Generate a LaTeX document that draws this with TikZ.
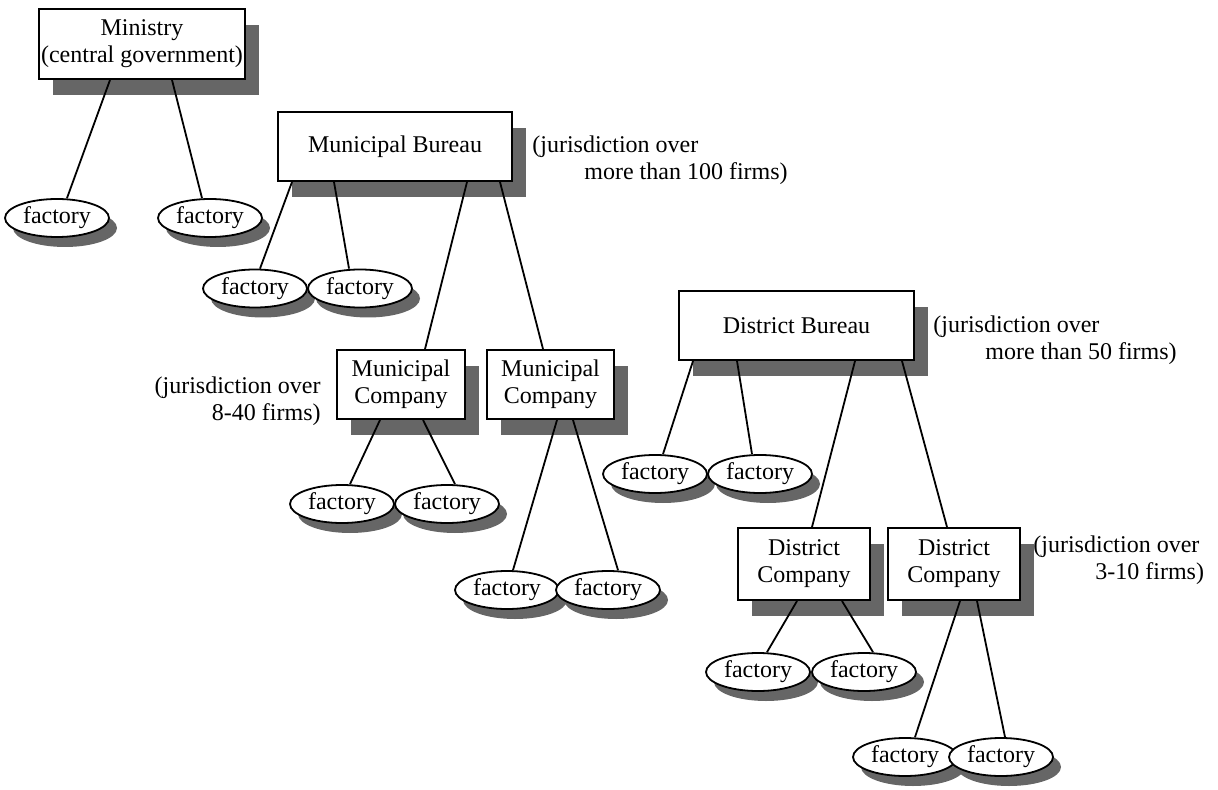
\documentclass[tikz,border=0pt]{standalone}
\usepackage{fontspec}
\setmainfont{Liberation Serif}
\usetikzlibrary{shapes.geometric,shadows}

\begin{document}
\begin{tikzpicture}[x=0.5pt, y=-0.5pt,
	every node/.style={font=\fontsize{12}{13.5}\selectfont},
	office/.style={draw, line width=1pt, fill=white, align=center, inner sep=1pt,
		drop shadow={shadow xshift=7pt, shadow yshift=-8pt, fill=black!60, opacity=1}},
	plant/.style={ellipse, draw, line width=0.9pt, fill=white, inner sep=0pt,
		minimum width=52pt, minimum height=19pt,
		drop shadow={shadow xshift=4pt, shadow yshift=-5pt, fill=black!60, opacity=1}},
	remark/.style={inner sep=0pt, align=left},
	link/.style={line width=0.9pt}]
	\useasboundingbox (0,0) rectangle (1218,790);

	\node[office, minimum width=103pt, minimum height=35pt] (min) at (142,44) {Ministry\\(central government)};
	\node[plant] (fa1) at (57,218) {factory};
	\node[plant] (fa2) at (210,218) {factory};

	\node[office, minimum width=117pt, minimum height=34.5pt] (mb) at (395,146.5) {Municipal Bureau};
	\node[remark, anchor=west] (mbnote) at (532,160) {(jurisdiction over\\\hspace*{26pt}more than 100 firms)};
	\node[plant] (fb1) at (255,288.5) {factory};
	\node[plant] (fb2) at (360,288.5) {factory};

	\node[office, minimum width=64pt, minimum height=34.5pt] (mc1) at (401,384.5) {Municipal\\Company};
	\node[office, minimum width=63.5pt, minimum height=34.5pt] (mc2) at (550.5,384.5) {Municipal\\Company};
	\node[remark, align=right, anchor=east] (mcnote) at (321,401) {(jurisdiction over\\8-40 firms)};
	\node[plant] (fc1) at (342,504) {factory};
	\node[plant] (fc2) at (447,504) {factory};
	\node[plant] (fd1) at (507,590) {factory};
	\node[plant] (fd2) at (608,590) {factory};

	\node[office, minimum width=117.5pt, minimum height=34.5pt] (db) at (796.5,325.5) {District Bureau};
	\node[remark, anchor=west] (dbnote) at (933,340) {(jurisdiction over\\\hspace*{26pt}more than 50 firms)};
	\node[plant] (fe1) at (655,474) {factory};
	\node[plant] (fe2) at (760,474) {factory};

	\node[office, minimum width=66pt, minimum height=36pt] (dc1) at (804,564) {District\\Company};
	\node[office, minimum width=66pt, minimum height=36pt] (dc2) at (954,564) {District\\Company};
	\node[remark, anchor=west] (dcnote) at (1033,560) {(jurisdiction over\\\hspace*{31pt}3-10 firms)};
	\node[plant] (ff1) at (758,672) {factory};
	\node[plant] (ff2) at (864,672) {factory};
	\node[plant] (fg1) at (905,757) {factory};
	\node[plant] (fg2) at (1001,757) {factory};

	\draw[link] ([xshift=-16pt]min.south) -- ([xshift=5pt]fa1.north);
	\draw[link] ([xshift=15pt]min.south) -- ([xshift=-4pt]fa2.north);
	\draw[link] ([xshift=-51.5pt]mb.south) -- ([xshift=2.5pt]fb1.north);
	\draw[link] ([xshift=-30.5pt]mb.south) -- ([xshift=-5.5pt]fb2.north);
	\draw[link] ([xshift=36pt]mb.south) -- ([xshift=12pt]mc1.north);
	\draw[link] ([xshift=52.5pt]mb.south) -- ([xshift=-3.75pt]mc2.north);
	\draw[link] ([xshift=-10.5pt]mc1.south) -- ([xshift=4pt]fc1.north);
	\draw[link] ([xshift=11pt]mc1.south) -- ([xshift=4pt]fc2.north);
	\draw[link] ([xshift=3.25pt]mc2.south) -- ([xshift=3pt]fd1.north);
	\draw[link] ([xshift=11.25pt]mc2.south) -- ([xshift=5pt]fd2.north);
	\draw[link] ([xshift=-51.75pt]db.south) -- ([xshift=4pt]fe1.north);
	\draw[link] ([xshift=-29.75pt]db.south) -- ([xshift=-4pt]fe2.north);
	\draw[link] ([xshift=29.25pt]db.south) -- ([xshift=4pt]dc1.north);
	\draw[link] ([xshift=52.75pt]db.south) -- ([xshift=-3.5pt]dc2.north);
	\draw[link] ([xshift=-3.5pt]dc1.south) -- ([xshift=4.5pt]ff1.north);
	\draw[link] ([xshift=19pt]dc1.south) -- ([xshift=4.5pt]ff2.north);
	\draw[link] ([xshift=3pt]dc2.south) -- ([xshift=5pt]fg1.north);
	\draw[link] ([xshift=11.5pt]dc2.south) -- ([xshift=2pt]fg2.north);
\end{tikzpicture}
\end{document}
